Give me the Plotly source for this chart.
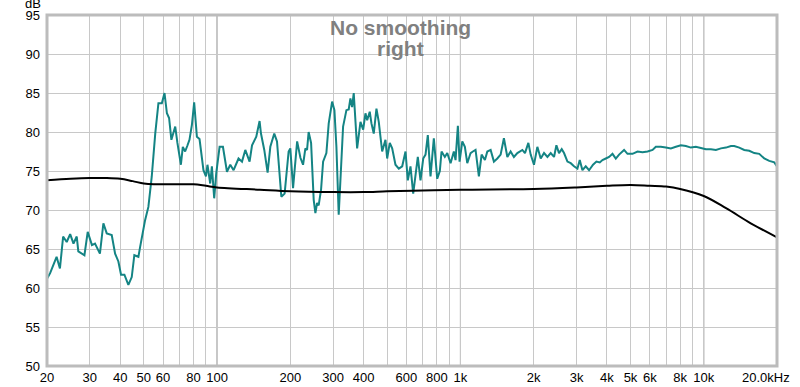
import plotly.graph_objects as go

# Measured response ("right", no smoothing)
resp_freq = [20.0, 20.6, 21.9, 22.6, 23.3, 24.1, 24.9, 25.7, 26.5, 26.9, 28.5, 29.4, 30.6, 31.5, 33.0,
             34.1, 35.2, 36.9, 38.1, 39.3, 40.3, 41.6, 43.2, 44.6, 45.7, 47.5, 48.3, 50.6, 52.2, 53.9,
             55.7, 57.4, 59.3, 60.8, 62.2, 63.5, 64.9, 67.3, 68.7, 71.0, 72.3, 73.9, 75.6, 77.0, 78.8,
             80.5, 82.6, 84.7, 87.9, 90.0, 91.3, 93.7, 95.2, 97.3, 99.2, 102.4, 105.7, 109.8, 113.3,
             116.9, 122.5, 126.6, 130.6, 136.0, 139.2, 144.9, 149.5, 151.5, 156.3, 161.3, 165.5, 171.8,
             176.3, 183.7, 189.5, 196.8, 200.0, 205.2, 213.3, 220.0, 225.6, 230.6, 234.3, 237.8, 243.4,
             249.5, 253.5, 257.6, 261.5, 267.5, 272.7, 281.3, 287.6, 297.0, 303.5, 309.3, 316.1, 321.3,
             329.5, 340.0, 347.5, 353.1, 358.9, 364.4, 370.3, 376.3, 388.4, 398.4, 407.2, 413.8, 424.0,
             430.9, 440.4, 451.8, 461.8, 476.9, 492.0, 500.0, 512.5, 524.3, 540.9, 558.2, 576.5, 594.8,
             607.8, 623.5, 639.7, 653.8, 668.2, 685.5, 703.3, 718.8, 734.6, 753.6, 777.6, 803.0, 823.0,
             836.4, 863.0, 883.0, 911.0, 939.8, 955.0, 976.2, 992.0, 1018, 1043, 1067, 1101, 1125, 1154,
             1191, 1222, 1261, 1290, 1331, 1373, 1418, 1463, 1509, 1559, 1608, 1659, 1714, 1797, 1842,
             1902, 1944, 2006, 2071, 2138, 2206, 2278, 2350, 2425, 2480, 2542, 2608, 2666, 2753, 2840,
             2930, 3026, 3093, 3173, 3274, 3378, 3508, 3622, 3738, 3835, 3958, 4084, 4217, 4351, 4488,
             4706, 4860, 5096, 5344, 5604, 5876, 6161, 6355, 6664, 6988, 7327, 7682, 8053, 8444, 8854,
             9284, 9734, 10206, 10702, 11222, 11764, 12335, 12934, 13346, 13994, 14672, 15382, 16129,
             16910, 17729, 18590, 19494, 20000]
resp_db = [61.2, 61.9, 64.0, 62.5, 66.6, 65.9, 66.9, 65.7, 66.6, 64.7, 64.2, 67.2, 65.5, 65.7, 64.4,
           68.3, 67.0, 66.8, 64.4, 63.4, 61.7, 61.7, 60.4, 61.4, 64.2, 64.0, 65.3, 68.7, 70.4, 74.3,
           79.8, 83.7, 83.7, 85.0, 82.4, 81.8, 79.0, 80.7, 78.6, 75.8, 78.1, 77.5, 78.3, 79.0, 80.9,
           83.8, 79.4, 79.1, 75.1, 74.3, 75.8, 73.4, 75.6, 71.5, 74.7, 78.1, 78.1, 74.9, 75.8,
           75.1, 76.6, 76.2, 77.7, 76.2, 78.3, 79.4, 81.4, 79.8, 77.7, 74.8, 78.1, 79.8,
           78.8, 71.7, 72.1, 77.5, 77.9, 72.8, 78.8, 76.7, 75.8, 77.9, 77.7, 80.0, 78.6,
           71.3, 69.6, 70.9, 70.6, 72.6, 76.2, 77.3, 81.1, 83.9, 82.8, 78.1, 69.4, 73.4,
           80.7, 82.8, 82.9, 84.3, 83.2, 85.0, 81.5, 77.9, 81.3, 80.3, 82.4, 81.5, 82.6,
           81.1, 79.8, 83.0, 81.3, 77.5, 79.0, 76.6, 78.6, 77.9, 75.8, 75.3, 75.6, 77.5,
           73.8, 75.6, 72.1, 74.3, 76.8, 73.8, 76.6, 77.1, 79.6, 74.3, 79.2, 74.0, 75.0,
           77.5, 76.8, 77.3, 76.0, 77.5, 76.4, 80.8, 76.2, 78.8, 78.1, 76.0, 77.3, 77.5, 77.7,
           74.3, 77.1, 76.4, 77.5, 77.7, 76.2, 76.6, 77.1, 79.2, 76.8, 77.5, 76.8, 77.3, 77.7, 77.3,
           78.6, 77.1, 75.8, 78.1, 76.6, 77.3, 76.8, 77.3, 76.8, 78.3, 77.3, 77.8, 77.3, 76.2, 76.0,
           75.6, 75.3, 76.4, 75.1, 75.6, 75.1, 75.8, 76.2, 76.1, 76.4, 76.6, 76.8, 77.2, 76.6, 77.1,
           77.7, 77.2, 77.2, 77.5, 77.4, 77.5, 77.7, 78.1, 78.1, 78.0, 77.9, 78.1, 78.3, 78.2, 78.0,
           78.1, 77.9, 77.8, 77.8, 77.7, 77.9, 78.0, 78.2, 78.2, 78.0, 77.7, 77.6, 77.3,
           77.2, 76.6, 76.3, 76.1, 75.6]

# Reference / target curve
ref_freq = [20, 25, 30, 35, 40, 45, 50, 55, 60, 70, 80, 90, 100, 150, 200, 300, 400, 500, 700,
            1000, 2000, 3000, 4000, 5000, 6000, 7000, 8000, 10000, 12400, 15600, 20000]
ref_db = [73.8, 74.0, 74.1, 74.1, 74.0, 73.7, 73.4, 73.3, 73.3, 73.3, 73.3, 73.1, 72.9, 72.6, 72.4,
          72.3, 72.3, 72.4, 72.5, 72.6, 72.7, 72.9, 73.1, 73.2, 73.1, 73.0, 72.7, 71.8, 70.2, 68.3, 66.5]

# Axis ticks
x_grid = [20, 30, 40, 50, 60, 70, 80, 90, 100, 200, 300, 400, 500, 600, 700, 800, 900, 1000,
          2000, 3000, 4000, 5000, 6000, 7000, 8000, 9000, 10000]
x_text = ["20", "30", "40", "50", "60", "", "80", "", "100", "200", "300", "400", "", "600", "",
          "800", "", "1k", "2k", "3k", "4k", "5k", "6k", "", "8k", "", "10k"]
x_end_label = "20.0kHz"
x_major = [100, 1000, 10000]
y_ticks = [50, 55, 60, 65, 70, 75, 80, 85, 90, 95]

FONT = "Liberation Sans, Arial, sans-serif"

fig = go.Figure()
fig.add_trace(go.Scatter(x=resp_freq, y=resp_db, mode="lines",
                         line=dict(color="#148484", width=2), showlegend=False))
fig.add_trace(go.Scatter(x=ref_freq, y=ref_db, mode="lines",
                         line=dict(color="#000000", width=2, shape="spline"), showlegend=False))

for f in x_major:
    fig.add_shape(type="line", xref="x", yref="paper", x0=f, x1=f, y0=0, y1=1,
                  line=dict(color="#7a7a7a", width=1), layer="below")

fig.add_shape(type="rect", xref="paper", yref="paper", x0=0, x1=1, y0=0, y1=1,
              line=dict(color="#bcbcbc", width=3), layer="above")

fig.add_annotation(text=x_end_label, xref="paper", yref="paper", x=1, y=0,
                   xanchor="right", yanchor="top", xshift=15, yshift=-2, showarrow=False,
                   font=dict(family=FONT, size=13, color="#000000"))
fig.add_annotation(text="No smoothing", xref="paper", yref="paper", x=0.4836, y=1,
                   xanchor="center", yanchor="top", yshift=1, showarrow=False,
                   font=dict(family=FONT, size=21, color="#808080", weight="bold"))
fig.add_annotation(text="right", xref="paper", yref="paper", x=0.4836, y=1,
                   xanchor="center", yanchor="top", yshift=-20, showarrow=False,
                   font=dict(family=FONT, size=21, color="#808080", weight="bold"))
fig.add_annotation(text="dB", xref="paper", yref="paper", x=0, y=1, xanchor="right",
                   yanchor="bottom", xshift=-4, yshift=2, showarrow=False,
                   font=dict(family=FONT, size=13, color="#000000"))

fig.update_layout(
    width=800, height=387,
    margin=dict(l=47, r=23, t=15, b=21, autoexpand=False),
    paper_bgcolor="#ffffff", plot_bgcolor="#ffffff",
    font=dict(family=FONT, size=13, color="#000000"),
    xaxis=dict(type="log", range=[1.30103, 4.30103], tickvals=x_grid, ticktext=x_text,
               showgrid=True, gridcolor="#c8c8c8", gridwidth=1, zeroline=False,
               showline=False, ticks="", ticklabelstandoff=2, tickangle=0, automargin=False),
    yaxis=dict(range=[50, 95], tickvals=y_ticks, showgrid=True, gridcolor="#c8c8c8",
               gridwidth=1, zeroline=False, showline=False, ticks="", ticklabelstandoff=6,
               automargin=False),
)

fig.write_html("out.html", config={"displayModeBar": False},
               post_script="document.body.style.margin='0px';document.body.style.overflow='hidden';")
